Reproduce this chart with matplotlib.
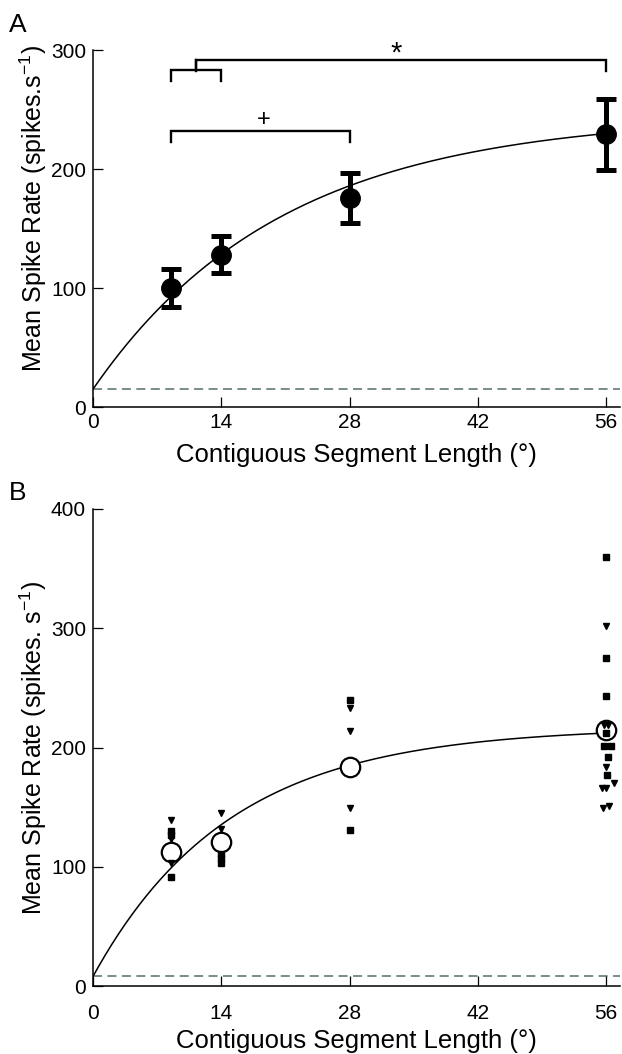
import numpy as np
import matplotlib
matplotlib.use("Agg")
import matplotlib.pyplot as plt

plt.rcParams['font.family'] = ['Liberation Sans', 'DejaVu Sans']
plt.rcParams['mathtext.fontset'] = 'custom'
plt.rcParams['mathtext.rm'] = 'Liberation Sans'
plt.rcParams['mathtext.it'] = 'Liberation Sans'
plt.rcParams['mathtext.default'] = 'regular'

# ---- Panel A: mean response per segment length ----
seg_len = [8.5, 14, 28, 56]
mean_rate = [100, 128, 176, 229]
err_rate = [16, 15.5, 21, 29.5]
baseline_a = 15
fit_a_amp, fit_a_tau = 230, 20.6

# significance brackets (level of bar, level of feet)
bracket_star_levels = (292, 282)
bracket_inner_levels = (283, 274)
bracket_plus_levels = (232, 223)

# ---- Panel B: individual cells and population means ----
seg_len_b = [8.5, 14, 28, 56]
mean_rate_b = [112, 121, 184, 215]
baseline_b = 8
fit_b_amp, fit_b_tau = 209, 14.9

tri_x = [8.5, 8.5, 8.5,
         14, 14,
         28, 28, 28,
         56, 55.8, 56.2, 56, 56.8, 55.5, 56.0, 55.6, 56.3]
tri_y = [139, 123, 103,
         145, 132,
         233, 214, 149,
         301.5, 219, 219, 184, 170, 166, 166, 149, 151]

sq_x = [8.5, 8.5, 8.5,
        14, 14, 14,
        28, 28,
        56, 56, 56, 56, 55.8, 56.5, 56.2, 56.1]
sq_y = [130, 127, 91,
        111, 107.5, 103.5,
        240, 131,
        360, 275, 243, 212, 201, 201, 192, 177]

x_ticks = [0, 14, 28, 42, 56]

W, H = 622, 1054
fig = plt.figure(figsize=(W / 100, H / 100), dpi=100)


def frac_box(left, top, right, bottom):
    return [left / W, 1 - bottom / H, (right - left) / W, (bottom - top) / H]


def style_axes(ax, xpad):
    for side in ('top', 'right'):
        ax.spines[side].set_visible(False)
    for side in ('left', 'bottom'):
        ax.spines[side].set_linewidth(1.1)
    ax.tick_params(direction='in', length=7, width=0.9, labelsize=15, pad=5)
    ax.tick_params(axis='x', pad=xpad)
    ax.set_xticks(x_ticks)
    ax.set_xlim(0, 57.5)


xs = np.linspace(0, 56, 300)

# Panel A
axA = fig.add_axes(frac_box(93, 50, 620, 407))
style_axes(axA, 4)
axA.set_ylim(0, 300)
axA.set_yticks([0, 100, 200, 300])
axA.axhline(baseline_a, color='#6e8282', lw=1.3, ls=(0, (5, 3)), zorder=1)
axA.plot(xs, baseline_a + fit_a_amp * (1 - np.exp(-xs / fit_a_tau)),
         color='black', lw=1.1, zorder=2)
axA.errorbar(seg_len, mean_rate, yerr=err_rate, fmt='o', color='black',
             ms=14, elinewidth=3.6, capsize=7, capthick=3.6, zorder=3)


def bracket(ax, x0, x1, levels, lw=1.7):
    top, foot = levels
    ax.plot([x0, x0, x1, x1], [foot, top, top, foot], color='black',
            lw=lw, solid_joinstyle='miter', clip_on=False)


bracket(axA, seg_len[0], seg_len[1], bracket_inner_levels)
mid_inner = (seg_len[0] + seg_len[1]) / 2
axA.plot([mid_inner, mid_inner], [bracket_inner_levels[0], bracket_star_levels[0]],
         color='black', lw=1.7, clip_on=False)
bracket(axA, mid_inner, seg_len[3], bracket_star_levels)
axA.text((mid_inner + seg_len[3]) / 2 - 0.5, 290, '*',
         ha='center', va='baseline', fontsize=21, clip_on=False)
bracket(axA, seg_len[0], seg_len[2], bracket_plus_levels)
axA.text((seg_len[0] + seg_len[2]) / 2 + 0.4, 236, '+',
         ha='center', va='baseline', fontsize=17)

axA.set_xlabel('Contiguous Segment Length (°)', fontsize=18.5)
axA.set_ylabel('Mean Spike Rate (spikes.s$^{-1}$)', fontsize=18)
axA.xaxis.set_label_coords(0.5, -0.102)
axA.yaxis.set_label_coords(-0.083, 0.555)
fig.text(9 / W, 1 - 25 / H, 'A', fontsize=19, va='center', ha='left')

# Panel B
axB = fig.add_axes(frac_box(93, 509, 620, 986))
style_axes(axB, 13)
axB.set_ylim(0, 400)
axB.set_yticks([0, 100, 200, 300, 400])
axB.axhline(baseline_b, color='#6e8282', lw=1.3, ls=(0, (5, 3)), zorder=1)
axB.plot(xs, baseline_b + fit_b_amp * (1 - np.exp(-xs / fit_b_tau)),
         color='black', lw=1.1, zorder=2)
axB.plot(seg_len_b, mean_rate_b, 'o', ls='none', ms=14, mfc='white',
         mec='black', mew=1.6, zorder=3)
axB.plot(tri_x, tri_y, 'v', ls='none', ms=5, color='black', zorder=4)
axB.plot(sq_x, sq_y, 's', ls='none', ms=4.2, color='black', zorder=4)

axB.set_xlabel('Contiguous Segment Length (°)', fontsize=18.5)
axB.set_ylabel('Mean Spike Rate (spikes. s$^{-1}$)', fontsize=18)
axB.xaxis.set_label_coords(0.5, -0.09)
axB.yaxis.set_label_coords(-0.083, 0.5)
fig.text(9 / W, 1 - 493 / H, 'B', fontsize=19, va='center', ha='left')

fig.savefig('out.png', dpi=100)
